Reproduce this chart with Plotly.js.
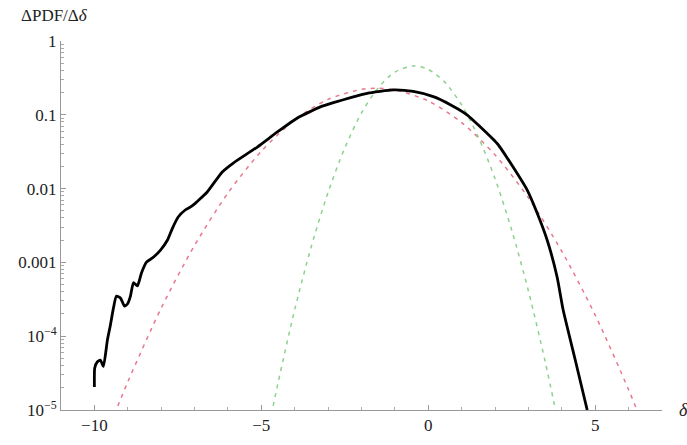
<!DOCTYPE html>
<html>
<head>
<meta charset="utf-8">
<script src="https://cdn.plot.ly/plotly-3.0.1.min.js"></script>
<style>
  html, body { margin: 0; padding: 0; background: #fff; }
  #pdffig { width: 687px; height: 445px; }
</style>
</head>
<body>
<div id="pdffig"></div>
<script>
// measured PDF (black)
var x_meas = [-10.00, -9.99, -9.91, -9.82, -9.73, -9.61, -9.52, -9.43, -9.34, -9.22, -9.10, -9.01,
  -8.92, -8.83, -8.71, -8.59, -8.44, -8.26, -8.02, -7.81, -7.66, -7.49, -7.28, -7.13, -6.98,
  -6.80, -6.62, -6.17, -5.84, -5.12, -4.52, -3.92, -3.23, -2.84, -2.30, -1.83, -1.05, -0.45, 0.15,
  0.66, 1.17, 1.56, 2.07, 2.54, 2.96, 3.26, 3.56, 3.86, 4.04, 4.40, 4.76];
var y_meas = [2.05e-5, 3.7e-5, 4.5e-5, 4.75e-5, 3.9e-5, 8.9e-5, 1.42e-4, 2.4e-4, 3.5e-4, 3.3e-4, 2.56e-4, 2.73e-4,
  3.5e-4, 5.3e-4, 4.8e-4, 7.2e-4, 1.01e-3, 1.15e-3, 1.47e-3, 2.01e-3, 2.92e-3, 4.12e-3, 5.13e-3, 5.6e-3, 6.3e-3,
  7.5e-3, 9.0e-3, 1.68e-2, 2.22e-2, 3.66e-2, 5.85e-2, 9.06e-2, 0.128, 0.146, 0.172, 0.195, 0.217, 0.207, 0.176,
  0.137, 0.0993, 0.0684, 0.0405, 0.0196, 9.6e-3, 4.67e-3, 2.01e-3, 6.3e-4, 2.26e-4, 4.8e-5, 1.0e-5];

// wide gaussian (red dashed)
var x_wide = [-9.4, -9, -8, -7, -6, -5, -4, -3, -2, -1.55, -1, 0, 1, 2, 3, 4, 5, 6, 6.5];
var y_wide = [8.7e-6, 2.4e-5, 2.4e-4, 1.7e-3, 8.7e-3, 0.0321, 0.0851, 0.162, 0.221, 0.229, 0.218, 0.154,
  0.0783, 0.0286, 7.5e-3, 1.41e-3, 1.93e-4, 1.88e-5, 5.2e-6];

// narrow gaussian (green dashed)
var x_narrow = [-4.7, -4.5, -4, -3.5, -3, -2.5, -2, -1.5, -1, -0.43, 0, 0.5, 1, 1.5, 2, 2.5, 3, 3.5, 3.85];
var y_narrow = [8.6e-6, 2.33e-5, 2.29e-4, 1.66e-3, 8.9e-3, 0.0356, 0.106, 0.232, 0.379, 0.46, 0.412, 0.275,
  0.136, 0.0498, 0.0136, 2.73e-3, 4.1e-4, 4.55e-5, 8.2e-6];

var xticks = [-10, -5, 0, 5];
var xticklabels = ['\u221210', '\u22125', '0', '5'];
var yticks = [1e-5, 1e-4, 1e-3, 1e-2, 0.1, 1];
var yticklabels = ['10<sup>\u22125</sup>', '10<sup>\u22124</sup>', '0.001', '0.01', '0.1', '1'];

var serif = '"Liberation Serif", "Times New Roman", serif';

var line_wide = { x: x_wide, y: y_wide, mode: 'lines', name: 'wide',
  line: { color: 'rgb(232,120,140)', width: 1.5, dash: '4px,5px', shape: 'spline', smoothing: 0.8 } };
var line_narrow = { x: x_narrow, y: y_narrow, mode: 'lines', name: 'narrow',
  line: { color: 'rgb(140,210,140)', width: 1.5, dash: '4px,5px', shape: 'spline', smoothing: 0.8 } };
var line_meas = { x: x_meas, y: y_meas, mode: 'lines', name: 'measured',
  line: { color: 'black', width: 2.8, shape: 'spline', smoothing: 0.5 } };

var layout = {
  width: 687, height: 445,
  margin: { l: 61, r: 25, t: 41, b: 35 },
  showlegend: false,
  paper_bgcolor: 'white', plot_bgcolor: 'white',
  font: { family: serif, size: 16, color: '#222' },
  xaxis: {
    range: [-11, 7],
    showgrid: false, zeroline: false,
    showline: true, linecolor: '#999', linewidth: 1,
    ticks: 'inside', ticklen: 5, tickcolor: '#999',
    tickvals: xticks, ticktext: xticklabels,
    minor: { ticks: 'inside', ticklen: 3, tickcolor: '#aaa', dtick: 1, showgrid: false },
    tickfont: { family: serif, size: 17, color: '#222' }
  },
  yaxis: {
    type: 'log', range: [-5, 0],
    showgrid: false, zeroline: false,
    showline: true, linecolor: '#999', linewidth: 1,
    ticks: 'inside', ticklen: 5, tickcolor: '#999',
    tickvals: yticks, ticktext: yticklabels,
    minor: { ticks: 'inside', ticklen: 3, tickcolor: '#aaa', dtick: 'D1', showgrid: false },
    tickfont: { family: serif, size: 17, color: '#222' }
  },
  annotations: [{
    xref: 'paper', yref: 'paper', x: -0.01, y: 1.07,
    xanchor: 'center', yanchor: 'middle',
    text: '\u0394PDF/\u0394<i>\u03b4</i>', showarrow: false,
    font: { family: serif, size: 17, color: '#222' }
  }, {
    xref: 'paper', yref: 'paper', x: 1.025, y: 0,
    xanchor: 'left', yanchor: 'middle',
    text: '<i>\u03b4</i>', showarrow: false,
    font: { family: serif, size: 18, color: '#222' }
  }]
};

Plotly.newPlot('pdffig', [line_wide, line_narrow, line_meas], layout, { staticPlot: true, displayModeBar: false });
</script>
</body>
</html>
